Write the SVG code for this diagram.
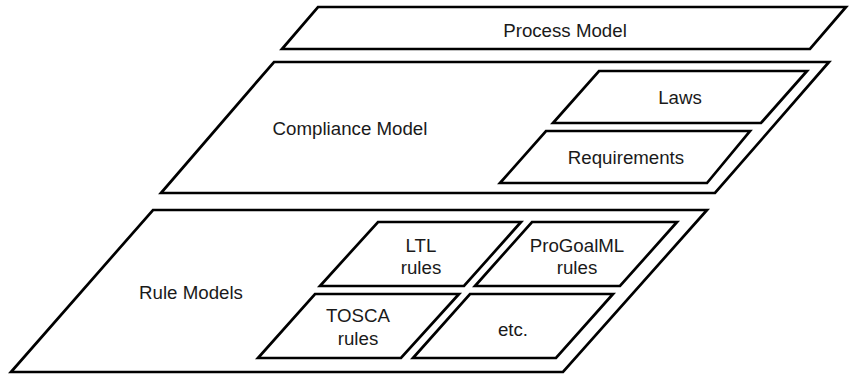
<svg xmlns="http://www.w3.org/2000/svg" width="860" height="376" viewBox="0 0 860 376">
<style>
.box{fill:#fff;stroke:#000;stroke-width:2.7;stroke-linejoin:miter}
.t{font-family:"Liberation Sans",Arial,sans-serif;font-size:18.7px;fill:#1a1a1a;text-anchor:middle}
</style>
<rect width="860" height="376" fill="#fff"/>
<g id="process-model">
<polygon class="box" points="318,7 846,7 810,49 282,49"/>
<text class="t" x="565" y="37">Process Model</text>
</g>
<g id="compliance-model">
<polygon class="box" points="274,62 829,62 715,193 161,193"/>
<text class="t" x="350" y="135">Compliance Model</text>
</g>
<g id="laws">
<polygon class="box" points="599,71 807,71 761,123 553,123"/>
<text class="t" x="680" y="104">Laws</text>
</g>
<g id="requirements">
<polygon class="box" points="546,131 750,131 707,183 500,183"/>
<text class="t" x="626" y="164">Requirements</text>
</g>
<g id="rule-models">
<polygon class="box" points="153,210 707,210 563,372 11,372"/>
<text class="t" x="191" y="299">Rule Models</text>
</g>
<g id="ltl-rules">
<polygon class="box" points="378,222 521,222 464,286 320,286"/>
<text class="t" x="421" y="252">LTL</text>
<text class="t" x="421" y="274">rules</text>
</g>
<g id="progoalml-rules">
<polygon class="box" points="532,222 677,222 620,286 475,286"/>
<text class="t" x="577" y="252">ProGoalML</text>
<text class="t" x="577" y="274">rules</text>
</g>
<g id="tosca-rules">
<polygon class="box" points="315,294 459,294 401,358 258,358"/>
<text class="t" x="358" y="322">TOSCA</text>
<text class="t" x="358" y="345">rules</text>
</g>
<g id="etc">
<polygon class="box" points="470,294 613,294 556,358 413,358"/>
<text class="t" x="513" y="336">etc.</text>
</g>
<g id="connectors"/>
</svg>
